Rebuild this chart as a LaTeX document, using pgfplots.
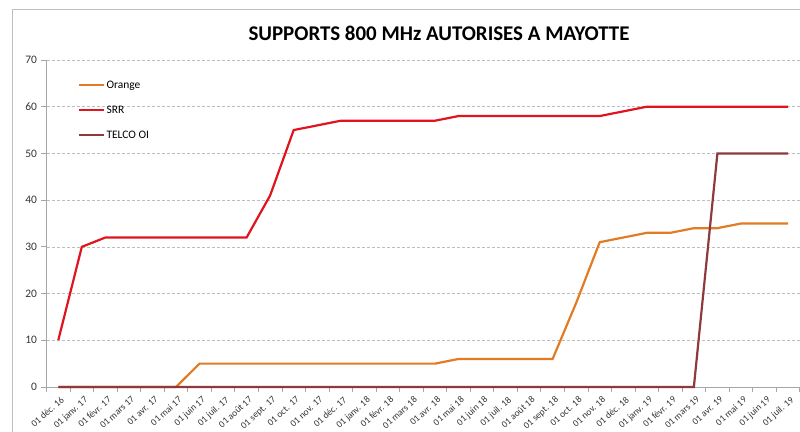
\documentclass[border=0pt]{standalone}
\usepackage{fontspec}
\setmainfont{Carlito}
\usepackage{pgfplots}
\pgfplotsset{compat=1.18}

\definecolor{cOrange}{RGB}{226,124,36}
\definecolor{cSRR}{RGB}{224,20,30}
\definecolor{cTelco}{RGB}{140,58,60}
\definecolor{gridgray}{RGB}{190,190,190}
\definecolor{axisgray}{RGB}{166,166,166}

\begin{document}
\begin{tikzpicture}
\path[use as bounding box] (0,0) rectangle (800bp,432bp);
% chart frame (partly cut off on the right and bottom)
\draw[gridgray, line width=0.8bp] (12bp,-2bp) -- (12bp,423bp) -- (802bp,423bp);
\node[font=\fontsize{21}{24}\selectfont\bfseries] at (439bp,399bp) {SUPPORTS 800 MHz AUTORISES A MAYOTTE};

\begin{axis}[
    at={(46.5bp,45bp)}, anchor=south west,
    scale only axis,
    width=753.3bp, height=327bp,
    xmin=-0.5, xmax=31.5,
    ymin=0, ymax=70,
    axis x line=bottom, axis y line=left,
    axis line style={-, axisgray, line width=0.8bp},
    xtick={0,...,31},
    xticklabels={01 déc. 16, 01 janv. 17, 01 févr. 17, 01 mars 17, 01 avr. 17, 01 mai 17,
        01 juin 17, 01 juil. 17, 01 août 17, 01 sept. 17, 01 oct. 17, 01 nov. 17,
        01 déc. 17, 01 janv. 18, 01 févr. 18, 01 mars 18, 01 avr. 18, 01 mai 18,
        01 juin 18, 01 juil. 18, 01 août 18, 01 sept. 18, 01 oct. 18, 01 nov. 18,
        01 déc. 18, 01 janv. 19, 01 févr. 19, 01 mars 19, 01 avr. 19, 01 mai 19,
        01 juin 19, 01 juil. 19},
    major x tick style={draw=none},
    minor xtick={-0.5,0.5,...,31.5},
    minor x tick style={axisgray, line width=0.8bp},
    ytick={0,10,...,70},
    ymajorgrids=true,
    grid style={gridgray, dashed, dash pattern=on 3bp off 2bp, line width=0.6bp},
    tick align=outside,
    major tick length=5bp, minor tick length=5bp,
    y tick style={axisgray, line width=0.8bp},
    /pgf/number format/assume math mode=true,
    yticklabel style={font=\fontsize{11.5}{13}\selectfont, text=black!80, xshift=-1bp},
    xticklabel style={font=\fontsize{9.5}{11}\selectfont, text=black!80, rotate=42, anchor=north east, inner sep=1pt, yshift=-3bp},
    legend style={at={(0.042,0.94)}, anchor=north west, draw=none, fill=none,
        font=\fontsize{11.5}{13}\selectfont, row sep=14bp, inner sep=0pt,
        nodes={inner sep=1pt}},
    legend cell align=left,
    legend image code/.code={\draw[#1] (0bp,0bp) -- (25bp,0bp);},
    clip=false,
]
\addplot[cOrange, line width=2.2bp] coordinates {
(0,0) (1,0) (2,0) (3,0) (4,0) (5,0) (6,5) (7,5) (8,5) (9,5) (10,5) (11,5)
(12,5) (13,5) (14,5) (15,5) (16,5) (17,6) (18,6) (19,6) (20,6) (21,6) (22,18) (23,31)
(24,32) (25,33) (26,33) (27,34) (28,34) (29,35) (30,35) (31,35)
};
\addlegendentry{Orange}
\addplot[cSRR, line width=2.2bp] coordinates {
(0,10) (1,30) (2,32) (3,32) (4,32) (5,32) (6,32) (7,32) (8,32) (9,41) (10,55) (11,56)
(12,57) (13,57) (14,57) (15,57) (16,57) (17,58) (18,58) (19,58) (20,58) (21,58) (22,58) (23,58)
(24,59) (25,60) (26,60) (27,60) (28,60) (29,60) (30,60) (31,60)
};
\addlegendentry{SRR}
\addplot[cTelco, line width=2.2bp] coordinates {
(0,0) (1,0) (2,0) (3,0) (4,0) (5,0) (6,0) (7,0) (8,0) (9,0) (10,0) (11,0)
(12,0) (13,0) (14,0) (15,0) (16,0) (17,0) (18,0) (19,0) (20,0) (21,0) (22,0) (23,0)
(24,0) (25,0) (26,0) (27,0) (28,50) (29,50) (30,50) (31,50)
};
\addlegendentry{TELCO OI}
\end{axis}
\end{tikzpicture}
\end{document}
